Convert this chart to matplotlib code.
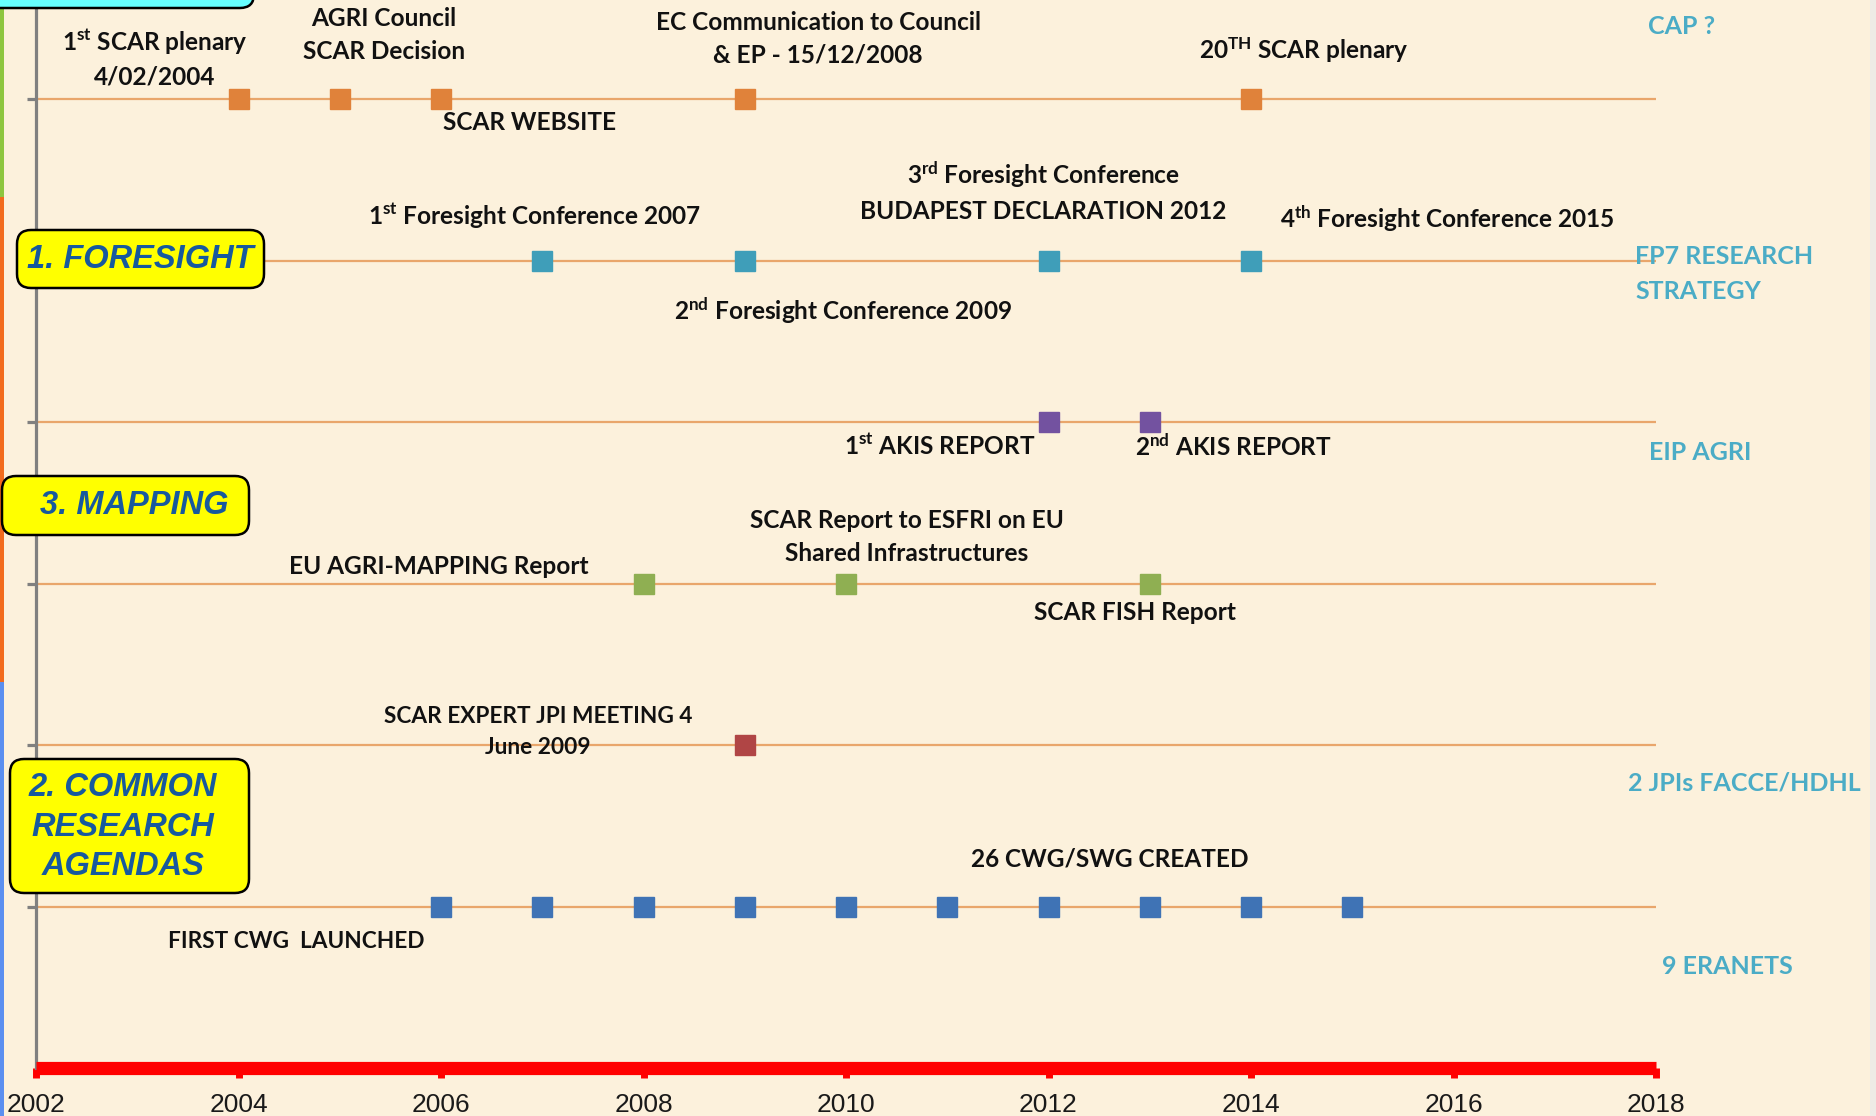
import matplotlib
matplotlib.use('Agg')
import matplotlib.pyplot as plt
from matplotlib.patches import FancyBboxPatch, Rectangle

# timeline data: one row per work stream, top to bottom
row_names = ['CAP', 'FORESIGHT', 'AKIS', 'MAPPING', 'JPI', 'CWG']
row_levels = [6, 5, 4, 3, 2, 1]
row_colors = ['#E0823A', '#3F9EB9', '#7352A0', '#8FAF52', '#B04545', '#3F73B5']

cap_years = [2004, 2005, 2006, 2009, 2014]
foresight_years = [2007, 2009, 2012, 2014]
akis_years = [2012, 2013]
mapping_years = [2008, 2010, 2013]
jpi_years = [2009]
cwg_years = [2006, 2007, 2008, 2009, 2010, 2011, 2012, 2013, 2014, 2015]
row_events = [cap_years, foresight_years, akis_years, mapping_years, jpi_years, cwg_years]

year_ticks = [2002, 2004, 2006, 2008, 2010, 2012, 2014, 2016, 2018]

plt.rcParams['mathtext.fontset'] = 'custom'
plt.rcParams['mathtext.rm'] = 'Lato:bold'
plt.rcParams['mathtext.it'] = 'Lato:bold:italic'
plt.rcParams['mathtext.bf'] = 'Lato:bold'

W, H = 1876, 1116
fig = plt.figure(figsize=(W / 100, H / 100), dpi=100)
fig.patch.set_facecolor('#FCF1DC')

# main axes: 2002 at x=36px, 2018 at x=1656px, level 0 at y=1068px, 161.5px per level
ax = fig.add_axes([36 / W, 48 / H, 1620 / W, 6.62 * 161.5 / H])
ax.set_xlim(2002, 2018)
ax.set_ylim(0, 6.62)
ax.patch.set_alpha(0)

for lvl, col, yrs in zip(row_levels, row_colors, row_events):
    ax.plot([2002, 2018], [lvl, lvl], color='#E9A66B', lw=1.6, zorder=2)
    ax.plot(yrs, [lvl] * len(yrs), 's', ms=15, color=col, mec=col, zorder=3)

for s in ['top', 'right']:
    ax.spines[s].set_visible(False)
ax.spines['left'].set_color('#808080')
ax.spines['left'].set_linewidth(2.3)
ax.spines['bottom'].set_color('#FF0000')
ax.spines['bottom'].set_linewidth(9.5)
ax.spines['bottom'].set_capstyle('butt')

ax.set_yticks(row_levels)
ax.set_yticklabels([])
ax.tick_params(axis='y', colors='#808080', length=6.5, width=2.3, direction='out')
ax.set_xticks(year_ticks)
ax.set_xticklabels([str(y) for y in year_ticks],
                   fontfamily=['Liberation Sans Narrow', 'Liberation Sans'], fontsize=19)
ax.tick_params(axis='x', colors='#FF0000', length=7, width=5, direction='out',
               pad=11, labelcolor='#1A1A1A')

# overlay in pixel coordinates for boxes and labels
ov = fig.add_axes([0, 0, 1, 1])
ov.set_xlim(0, W)
ov.set_ylim(H, 0)
ov.axis('off')
ov.patch.set_alpha(0)

# coloured strip on the left edge and light strip on the right edge
ov.add_patch(Rectangle((0, 0), 4, 197, fc='#8DC63F', ec='none'))
ov.add_patch(Rectangle((0, 197), 4, 485, fc='#F26B1D', ec='none'))
ov.add_patch(Rectangle((0, 682), 4, 434, fc='#5B8FF0', ec='none'))
ov.add_patch(Rectangle((1870, 0), 6, H, fc='#EEEBE6', ec='none'))

# cut off cyan box at the top
ov.add_patch(FancyBboxPatch((-20, -40), 274, 48, boxstyle='round,pad=0,rounding_size=14',
                            fc='#66FFFF', ec='black', lw=1.8))

box_font = dict(family='Liberation Sans', weight='bold', style='italic', color='#17599E')
boxes = [
    ((17, 230, 247, 58), '1. FORESIGHT', (140, 259)),
    ((2, 476, 247, 59), '3. MAPPING', (134, 506)),
    ((10, 759, 239, 134), '2. COMMON\nRESEARCH\nAGENDAS', (123, 827)),
]
for (x0, y0, w, h), txt, (tx, ty) in boxes:
    ov.add_patch(FancyBboxPatch((x0, y0), w, h, boxstyle='round,pad=0,rounding_size=14',
                                fc='#FFFF00', ec='black', lw=1.8))
    ov.text(tx, ty, txt, ha='center', va='center', fontsize=23.5, linespacing=1.35, **box_font)

lab = dict(family='Lato', weight='bold', color='#111111', fontsize=17.6, linespacing=1.52)
labels = [
    (155, 58, '1$^{\\mathrm{st}}$ SCAR plenary\n4/02/2004', 'center'),
    (384, 35, 'AGRI Council\nSCAR Decision', 'center'),
    (818, 39, 'EC Communication to Council\n& EP - 15/12/2008', 'center'),
    (443, 122, 'SCAR WEBSITE', 'left'),
    (1304, 50, '20$^{\\mathrm{TH}}$ SCAR plenary', 'center'),
    (535, 216, '1$^{\\mathrm{st}}$ Foresight Conference 2007', 'center'),
    (1043, 191, '3$^{\\mathrm{rd}}$ Foresight Conference\nBUDAPEST DECLARATION 2012', 'center'),
    (1447, 219, '4$^{\\mathrm{th}}$ Foresight Conference 2015', 'center'),
    (843, 311, '2$^{\\mathrm{nd}}$ Foresight Conference 2009', 'center'),
    (940, 445, '1$^{\\mathrm{st}}$ AKIS REPORT', 'center'),
    (1233, 447, '2$^{\\mathrm{nd}}$ AKIS REPORT', 'center'),
    (439, 566, 'EU AGRI-MAPPING Report', 'center'),
    (907, 537, 'SCAR Report to ESFRI on EU\nShared Infrastructures', 'center'),
    (1135, 612, 'SCAR FISH Report', 'center'),
    (1110, 859, '26 CWG/SWG CREATED', 'center'),
]
for x, y, txt, ha in labels:
    ov.text(x, y, txt, ha=ha, va='center', **lab)

small = dict(lab, fontsize=16.3, linespacing=1.6)
ov.text(538, 732, 'SCAR EXPERT JPI MEETING 4\nJune 2009', ha='center', va='center', **small)
ov.text(296, 942, 'FIRST CWG  LAUNCHED', ha='center', va='center', **small)

teal = dict(family='Lato', weight='bold', color='#4BACC6', fontsize=18, linespacing=1.6)
ov.text(1682, 27, 'CAP ?', ha='center', va='center', **teal)
ov.text(1635, 274, 'FP7 RESEARCH\nSTRATEGY', ha='left', va='center', **teal)
ov.text(1700, 452, 'EIP AGRI', ha='center', va='center', **teal)
ov.text(1744, 783, '2 JPIs FACCE/HDHL', ha='center', va='center', **teal)
ov.text(1727, 966, '9 ERANETS', ha='center', va='center', **teal)

fig.savefig('out.png', dpi=100, facecolor=fig.get_facecolor())
